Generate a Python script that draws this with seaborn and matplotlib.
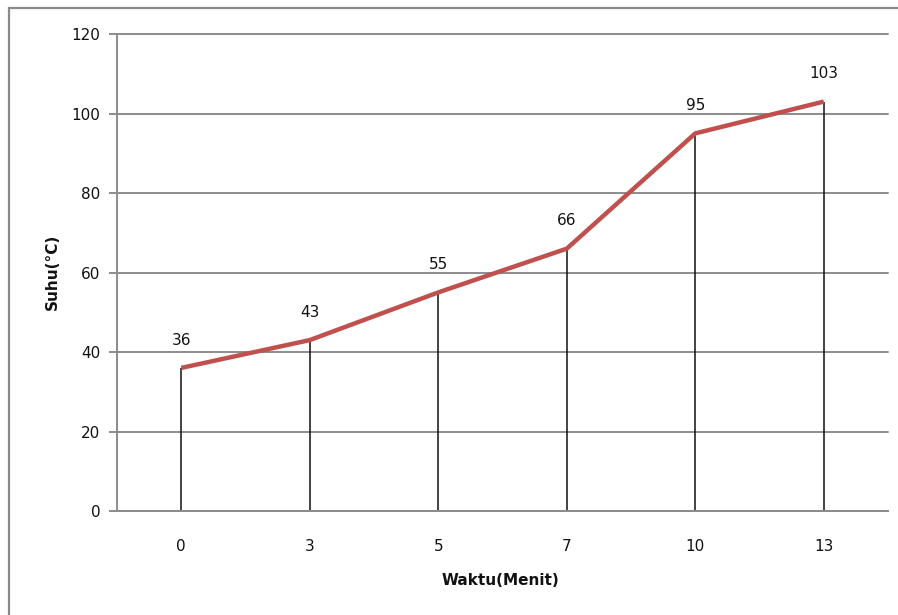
import matplotlib
matplotlib.use("Agg")
import matplotlib.pyplot as plt
import matplotlib.patches as mpatches
import numpy as np
import pandas as pd
import seaborn as sns

# Temperature readings over time
waktu = ["0", "3", "5", "7", "10", "13"]
suhu = [36, 43, 55, 66, 95, 103]
y_ticks = [0, 20, 40, 60, 80, 100, 120]

sns.set_style("white")
plt.rcParams["font.family"] = ["DejaVu Sans"]

df = pd.DataFrame({"pos": np.arange(len(waktu)), "waktu": waktu, "suhu": suhu})

fig = plt.figure(figsize=(8.98, 6.15), dpi=100)
ax = fig.add_axes([0.1303, 0.1691, 0.9889 - 0.1303, 0.9447 - 0.1691])

grid_col = "#8c8c8c"
line_col = "#C0504D"

# horizontal gridlines
ax.set_ylim(0, 120)
ax.set_yticks(y_ticks)
ax.yaxis.grid(True, color=grid_col, linewidth=1.4)
ax.xaxis.grid(False)
ax.set_axisbelow(True)

# drop lines from each point to the axis
ax.vlines(df["pos"], 0, df["suhu"], colors="#111111", linewidth=1.1, zorder=2)

sns.lineplot(data=df, x="pos", y="suhu", ax=ax, color=line_col,
             linewidth=3.2, zorder=3, solid_capstyle="butt")

for p, v in zip(df["pos"], df["suhu"]):
    ax.annotate(str(v), (p, v), xytext=(0, 20), textcoords="offset points",
                ha="center", va="center", fontsize=11, color="#111111")

ax.set_xlim(-0.5, len(waktu) - 0.5)
ax.set_xticks(df["pos"])
ax.set_xticklabels(waktu)

for s in ["top", "right"]:
    ax.spines[s].set_visible(False)
for s in ["left", "bottom"]:
    ax.spines[s].set_color(grid_col)
    ax.spines[s].set_linewidth(1.4)

ax.tick_params(axis="y", which="both", left=True, length=6, width=1.4,
               color=grid_col, pad=6, labelsize=11, labelcolor="#111111")
ax.tick_params(axis="x", which="both", bottom=False, length=0, pad=20,
               labelsize=11, labelcolor="#111111")

# keep the top gridline at full width
for gl in ax.get_ygridlines():
    gl.set_clip_on(False)

ax.set_xlabel("Waktu(Menit)", fontsize=11, fontweight="bold", color="#111111")
ax.set_ylabel("Suhu(°C)", fontsize=11, fontweight="bold", color="#111111")
ax.xaxis.set_label_coords(0.497, -0.1447)
ax.xaxis.label.set_va("center")
ax.yaxis.set_label_coords(-0.0843, 0.501)
ax.yaxis.label.set_va("center")

# outer chart frame
frame = mpatches.Rectangle((9 / 898, -0.05), 1.2, 1 - 8 / 615 + 0.05,
                           transform=fig.transFigure, fill=False,
                           edgecolor="#8a8a8a", linewidth=1.6, zorder=0)
fig.patches.append(frame)

fig.savefig("out.png", dpi=100)
